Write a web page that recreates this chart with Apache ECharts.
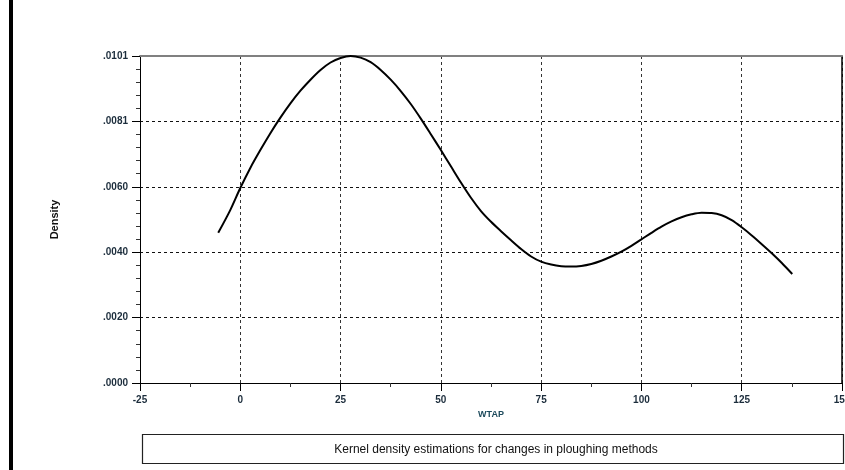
<!DOCTYPE html>
<html>
<head>
<meta charset="utf-8">
<script src="https://cdn.jsdelivr.net/npm/echarts@6/dist/echarts.min.js"></script>
<style>
  html, body { margin: 0; padding: 0; background: #fff; }
  #chart { width: 845px; height: 470px; }
</style>
</head>
<body>
<div id="chart"></div>
<script>
// WTAP values and the estimated density at each one
const wtap = [-5.5, -2.5, 0, 2.5, 5, 7.5, 10, 12.5, 15, 17.5, 20, 22.5, 25, 27.5, 30, 32.5, 35, 37.5,
  40, 42.5, 45, 47.5, 50, 52.5, 55, 57.5, 60, 62.5, 65, 67.5, 70, 72.5, 75, 77.5, 80, 82.5, 85,
  87.5, 90, 92.5, 95, 97.5, 100, 102.5, 105, 107.5, 110, 112.5, 115, 117.5, 120, 122.5, 125,
  127.5, 130, 132.5, 135, 137.6];
const density = [0.00463, 0.00533, 0.00601, 0.00663, 0.00718, 0.00770, 0.00818, 0.00862, 0.00901,
  0.00935, 0.00965, 0.00988, 0.01002, 0.01008, 0.01003, 0.00989, 0.00965, 0.00935,
  0.00900, 0.00860, 0.00815, 0.00767, 0.00718, 0.00668, 0.00618, 0.00571, 0.00530, 0.00497,
  0.00468, 0.00440, 0.00413, 0.00390, 0.00374, 0.00365, 0.00360, 0.00359, 0.00361,
  0.00367, 0.00377, 0.00390, 0.00405, 0.00423, 0.00443, 0.00463, 0.00482, 0.00498,
  0.00511, 0.00520, 0.00525, 0.00524, 0.00517, 0.00502, 0.00480,
  0.00455, 0.00428, 0.00400, 0.00370, 0.00336];

const xMin = -25, xMax = 150, xStep = 25;
const yMax = 0.01008, yStep = 0.002016;

const titleText = 'Kernel density estimations for changes in ploughing methods';

const labelColor = '#1c2d3c';

const chart = echarts.init(document.getElementById('chart'));

const option = {
  animation: false,
  backgroundColor: '#fff',
  grid: { left: 140, right: 3, top: 56, bottom: 87, outerBoundsMode: 'none' },
  title: {
    text: titleText,
    left: 491,
    textAlign: 'center',
    top: 439,
    textStyle: { fontFamily: 'Liberation Sans', fontSize: 12, fontWeight: 'normal', color: '#111' }
  },
  graphic: [
    // thick bar at the left edge
    { type: 'rect', left: 9, top: 0, shape: { width: 4, height: 470 }, style: { fill: '#000' } },
    // caption box
    { type: 'rect', left: 140, top: 432, shape: { width: 701, height: 29 },
      style: { fill: 'none', stroke: '#222', lineWidth: 1.2 } }
  ],
  xAxis: [
    {
      type: 'value',
      min: xMin, max: xMax, interval: xStep,
      name: 'WTAP',
      nameLocation: 'middle',
      nameGap: 25,
      nameTextStyle: { fontFamily: 'Liberation Sans', fontSize: 9, fontWeight: 'bold', color: '#1d4a5c' },
      axisLine: { onZero: false, lineStyle: { color: '#000', width: 1 } },
      axisTick: { show: true, inside: false, length: 8, lineStyle: { color: '#000' } },
      minorTick: { show: true, splitNumber: 2, length: 4, lineStyle: { color: '#333' } },
      axisLabel: {
        margin: 12,
        fontFamily: 'Liberation Sans', fontSize: 10, fontWeight: 'bold', color: labelColor
      },
      splitLine: { show: true, lineStyle: { color: '#333', type: [3, 3], width: 1 } }
    },
    {
      type: 'value', position: 'top',
      min: xMin, max: xMax, interval: xStep,
      axisLine: { show: true, onZero: false, lineStyle: { color: '#808080', width: 2 } },
      axisTick: { show: false }, axisLabel: { show: false }, splitLine: { show: false }
    }
  ],
  yAxis: [
    {
      type: 'value',
      min: 0, max: yMax, interval: yStep,
      name: 'Density',
      nameLocation: 'middle',
      nameGap: 80,
      nameRotate: 90,
      nameTextStyle: { fontFamily: 'Liberation Sans', fontSize: 11, fontWeight: 'bold', color: '#111' },
      axisLine: { show: true, onZero: false, lineStyle: { color: '#000', width: 1 } },
      axisTick: { show: true, inside: false, length: 8, lineStyle: { color: '#000' } },
      minorTick: { show: true, splitNumber: 5, length: 4, lineStyle: { color: '#333' } },
      axisLabel: {
        margin: 12,
        fontFamily: 'Liberation Sans', fontSize: 10, fontWeight: 'bold', color: labelColor,
        formatter: v => v.toFixed(4).replace(/^0/, '')
      },
      splitLine: { show: true, lineStyle: { color: '#111', type: [3, 3], width: 1 } }
    },
    {
      type: 'value', position: 'right',
      min: 0, max: yMax, interval: yStep,
      axisLine: { show: true, onZero: false, lineStyle: { color: '#000', width: 1.5 } },
      axisTick: { show: false }, axisLabel: { show: false }, splitLine: { show: false }
    }
  ],
  series: [
    {
      type: 'line',
      data: wtap.map((x, i) => [x, density[i]]),
      smooth: 0.3,
      showSymbol: false,
      lineStyle: { color: '#000', width: 2 }
    }
  ]
};

chart.setOption(option);
</script>
</body>
</html>
